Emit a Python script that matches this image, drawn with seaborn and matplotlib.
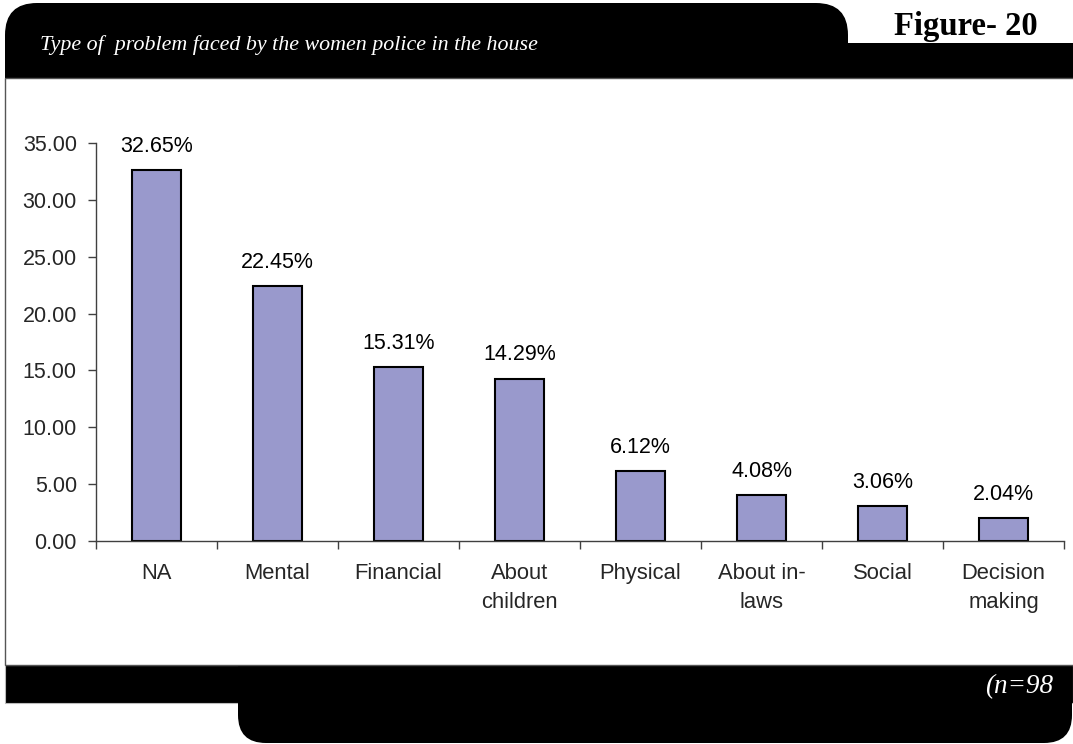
import matplotlib
matplotlib.use("Agg")
import matplotlib.pyplot as plt
from matplotlib.patches import FancyBboxPatch, Rectangle
from matplotlib.ticker import FormatStrFormatter
import seaborn as sns

# Survey data (n = 98)
categories = ["NA", "Mental", "Financial", "About\nchildren", "Physical",
              "About in-\nlaws", "Social", "Decision\nmaking"]
percentages = [32.65, 22.45, 15.31, 14.29, 6.12, 4.08, 3.06, 2.04]
y_ticks = [0, 5, 10, 15, 20, 25, 30, 35]

title_text = "Type of  problem faced by the women police in the house"
figure_tag = "Figure- 20"
sample_note = "(n=98"

sns.set_style("white")
plt.rcParams["font.family"] = ["Liberation Sans", "DejaVu Sans"]

W, H = 1073, 744
fig = plt.figure(figsize=(W / 100, H / 100), dpi=100)
fig.patch.set_facecolor("white")

# Background layer in pixel coordinates (y grows downward)
bg = fig.add_axes([0, 0, 1, 1], zorder=0)
bg.set_xlim(0, W)
bg.set_ylim(H, 0)
bg.axis("off")

# Header: rounded black tab plus full-width band
bg.add_patch(FancyBboxPatch((5, 3), 843, 140, boxstyle="round,pad=0,rounding_size=32",
                            facecolor="black", edgecolor="none", zorder=1))
bg.add_patch(Rectangle((5, 43), W - 5, 36, facecolor="black", edgecolor="none", zorder=1))

# Footer: full-width band plus rounded black tab
bg.add_patch(Rectangle((5, 665), W - 5, 38, facecolor="black", edgecolor="#bbbbbb",
                       linewidth=0.8, zorder=1))
bg.add_patch(FancyBboxPatch((238, 600), W - 239, 143, boxstyle="round,pad=0,rounding_size=28",
                            facecolor="black", edgecolor="none", zorder=1))

# White chart panel
bg.add_patch(Rectangle((5, 78), W + 10, 587, facecolor="white", edgecolor="#555555",
                       linewidth=1.0, zorder=2))

bg.text(40, 50, title_text, color="white", fontsize=15.8, style="italic",
        family=["Liberation Serif", "DejaVu Serif"], va="baseline", ha="left", zorder=3)
bg.text(1038, 35, figure_tag, color="black", fontsize=23.5, weight="bold",
        family=["Liberation Serif", "DejaVu Serif"], va="baseline", ha="right", zorder=3)
bg.text(1053, 693, sample_note, color="white", fontsize=19.5, style="italic",
        family=["Liberation Serif", "DejaVu Serif"], va="baseline", ha="right", zorder=3)

# Bar chart
ax = fig.add_axes([96 / W, 1 - 541 / H, (1064 - 96) / W, (541 - 143) / H], zorder=5)
ax.patch.set_alpha(0)
sns.barplot(x=categories, y=percentages, color="#9999CC", saturation=1,
            edgecolor="black", linewidth=1.5, width=0.4, ax=ax)

ax.set_ylim(0, 35)
ax.set_xlim(-0.5, len(categories) - 0.5)
ax.set_yticks(y_ticks)
ax.yaxis.set_major_formatter(FormatStrFormatter("%.2f"))
ax.set_xlabel("")
ax.set_ylabel("")

for side in ("top", "right"):
    ax.spines[side].set_visible(False)
for side in ("left", "bottom"):
    ax.spines[side].set_color("#404040")
    ax.spines[side].set_linewidth(1.0)

ax.tick_params(axis="y", direction="out", length=5.8, width=1, color="#404040",
               labelsize=15.5, pad=8, left=True)
ax.tick_params(axis="x", which="major", length=0, labelsize=15.8, pad=15.5)
ax.set_xticks([i + 0.5 for i in range(-1, len(categories))], minor=True)
ax.tick_params(axis="x", which="minor", direction="out", length=5.8, width=1,
               color="#404040", bottom=True)
for lbl in ax.get_xticklabels():
    lbl.set_linespacing(1.55)

for i, v in enumerate(percentages):
    ax.annotate(f"{v:.2f}%", xy=(i, v), xytext=(0, 13), textcoords="offset points",
                ha="center", va="baseline", fontsize=15.5, color="black")

fig.savefig("out.png", dpi=100)
